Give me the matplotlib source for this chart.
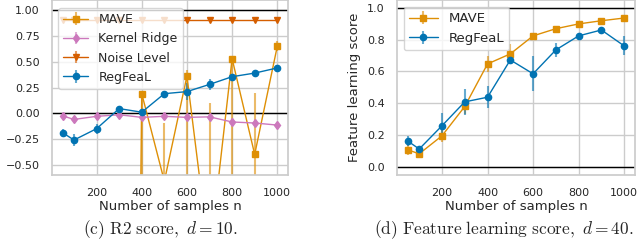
import numpy as np
import matplotlib
matplotlib.use("Agg")
import matplotlib.pyplot as plt
import seaborn as sns

# sample sizes
n_samples = [50, 100, 200, 300, 400, 500, 600, 700, 800, 900, 1000]

# (c) R2 score, d = 10
mave_r2 = [-40.0, -30.0, -25.0, -20.0, 0.19, -0.66, 0.36, -1.40, 0.53, -0.40, 0.65]
mave_r2_lo = [5.0, 5.0, 5.0, 5.0, 1.0, 0.5, 1.0, 1.0, 1.2, 0.6, 0.05]
mave_r2_hi = [5.0, 5.0, 5.0, 5.0, 0.03, 0.57, 0.06, 1.5, 0.02, 0.6, 0.05]
kr_r2 = [-0.026, -0.06, -0.03, -0.015, -0.04, -0.03, -0.04, -0.035, -0.085, -0.095, -0.115]
kr_r2_err = [0.02, 0.02, 0.015, 0.015, 0.015, 0.015, 0.015, 0.015, 0.015, 0.015, 0.02]
noise_r2 = [0.903] * 11
noise_r2_err = [0.005] * 11
reg_r2 = [-0.19, -0.26, -0.15, 0.045, 0.01, 0.19, 0.21, 0.28, 0.355, 0.39, 0.44]
reg_r2_err = [0.04, 0.06, 0.05, 0.02, 0.02, 0.03, 0.08, 0.05, 0.03, 0.03, 0.03]

# (d) Feature learning score, d = 40
mave_fl = [0.108, 0.083, 0.196, 0.38, 0.647, 0.71, 0.823, 0.868, 0.898, 0.918, 0.935]
mave_fl_err = [0.03, 0.02, 0.04, 0.05, 0.05, 0.06, 0.01, 0.01, 0.01, 0.01, 0.01]
reg_fl = [0.163, 0.113, 0.259, 0.409, 0.438, 0.672, 0.585, 0.735, 0.823, 0.86, 0.76]
reg_fl_err = [0.03, 0.02, 0.08, 0.08, 0.07, 0.02, 0.11, 0.045, 0.01, 0.01, 0.06]

sns.set_theme(style="whitegrid")
plt.rcParams['font.family'] = ['DejaVu Sans']
plt.rcParams['mathtext.fontset'] = 'cm'

pal = sns.color_palette("colorblind")
C_MAVE = pal[1]
C_KR = pal[4]
C_NOISE = pal[3]
C_REG = pal[0]

fig = plt.figure(figsize=(6.4, 2.42), dpi=100)
ax1 = fig.add_axes([52 / 640, 67 / 242, 236 / 640, 175 / 242])
ax2 = fig.add_axes([397 / 640, 67 / 242, 238 / 640, 175.3 / 242])

kw = dict(lw=1, elinewidth=1.5, markersize=4.5)

ax1.errorbar(n_samples, mave_r2, yerr=[mave_r2_lo, mave_r2_hi], marker='s', color=C_MAVE,
             ecolor=(*C_MAVE, 0.6), label='MAVE', **kw)
ax1.errorbar(n_samples, kr_r2, yerr=kr_r2_err, marker='d', color=C_KR,
             ecolor=(*C_KR, 0.6), label='Kernel Ridge', **kw)
ax1.errorbar(n_samples, noise_r2, yerr=noise_r2_err, marker='v', color=C_NOISE,
             ecolor=(*C_NOISE, 0.6), label='Noise Level', **kw)
ax1.errorbar(n_samples, reg_r2, yerr=reg_r2_err, marker='o', color=C_REG,
             ecolor=(*C_REG, 0.6), label='RegFeaL', **kw)
ax1.axhline(1.0, color='black', lw=1, zorder=1)
ax1.axhline(0.0, color='black', lw=1, zorder=1)
ax1.set_ylim(-0.6, 1.1)
ax1.set_xlim(2.5, 1047.5)
ax1.set_yticks(np.arange(-0.5, 1.01, 0.25))
ax1.set_xticks([200, 400, 600, 800, 1000])
ax1.set_xlabel('Number of samples n', fontsize=9.5, labelpad=2)
ax1.set_ylabel('R2 score', fontsize=9.5)
ax1.tick_params(labelsize=8, pad=3)
ax1.legend(loc='upper left', fontsize=9, bbox_to_anchor=(0.0, 0.99))

ax2.errorbar(n_samples, mave_fl, yerr=mave_fl_err, marker='s', color=C_MAVE,
             ecolor=(*C_MAVE, 0.6), label='MAVE', **kw)
ax2.errorbar(n_samples, reg_fl, yerr=reg_fl_err, marker='o', color=C_REG,
             ecolor=(*C_REG, 0.6), label='RegFeaL', **kw)
ax2.axhline(1.0, color='black', lw=1, zorder=1)
ax2.axhline(0.0, color='black', lw=1, zorder=1)
ax2.set_ylim(-0.05, 1.05)
ax2.set_xlim(2.5, 1047.5)
ax2.set_xticks([200, 400, 600, 800, 1000])
ax2.set_xlabel('Number of samples n', fontsize=9.5, labelpad=2)
ax2.set_ylabel('Feature learning score', fontsize=9.5)
ax2.tick_params(labelsize=8, pad=3)
ax2.legend(loc='upper left', fontsize=9.5, bbox_to_anchor=(0.0, 0.995), handlelength=2.2)

fig.text(160 / 640, 1 / 242, r'$\mathrm{(c)\ R2\ score,}\ d=10.$', ha='center', va='bottom', fontsize=12.5)
fig.text(504 / 640, 1 / 242, r'$\mathrm{(d)\ Feature\ learning\ score,}\ d=40.$', ha='center', va='bottom', fontsize=12.5)

fig.savefig('out.png', dpi=100)
